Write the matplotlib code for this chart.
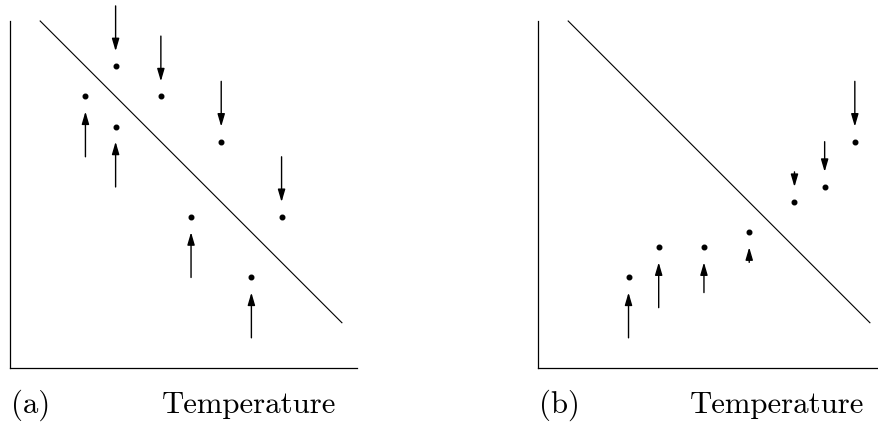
import matplotlib
matplotlib.use("Agg")
import matplotlib.pyplot as plt

plt.rcParams['font.family'] = ['cmr10', 'DejaVu Serif']
plt.rcParams['axes.formatter.use_mathtext'] = True

# panel (a): measured points, with arrows pointing towards the line
a_temp = [2.5, 3.5, 3.5, 5, 6, 7, 8, 9]
a_val = [9, 10, 8, 9, 5, 7.5, 3, 5]
a_shift = [1.5, -1.5, 1.5, -1.5, 1.5, -1.5, 1.5, -1.5]

# panel (b)
b_temp = [3, 4, 5.5, 7, 8.5, 9.5, 10.5]
b_val = [3, 4, 4, 4.5, 5.5, 6, 7.5]
b_shift = [1.5, 1.5, 1.0, 0.5, -0.5, -1.0, -1.5]

# the straight line in both panels
line_x = [1, 11]
line_y = [11.5, 1.5]

labels = ['(a)', '(b)']
xlabel = 'Temperature'

fig = plt.figure(figsize=(8.79, 4.22), dpi=100)
W, H = 879.0, 422.0
size = 347.0
lefts = [10.0, 538.0]
bottom = 422.0 - 368.0
gap = 0.5

def panel(ax, xs, ys, shifts, label):
    ax.set_xlim(0, 11.5)
    ax.set_ylim(0, 11.5)
    for s in ['top', 'right']:
        ax.spines[s].set_visible(False)
    for s in ['left', 'bottom']:
        ax.spines[s].set_linewidth(0.9)
    ax.set_xticks([])
    ax.set_yticks([])
    ax.plot(line_x, line_y, color='black', lw=0.8, clip_on=False)
    ax.plot(xs, ys, 'o', color='black', ms=3.3, clip_on=False)
    for x, y, d in zip(xs, ys, shifts):
        sign = 1 if d > 0 else -1
        tip = y - sign * gap
        tail = tip - d
        ax.annotate('', xy=(x, tip), xytext=(x, tail),
                    arrowprops=dict(arrowstyle='-|>,head_length=0.75,head_width=0.22',
                                    color='black', lw=1.0,
                                    shrinkA=0, shrinkB=0),
                    annotation_clip=False)
    ax.text(1.5 / size, -45.0 / size, label, transform=ax.transAxes,
            fontsize=22.2, ha='left', va='baseline')
    ax.text(152.0 / size, -45.0 / size, xlabel, transform=ax.transAxes,
            fontsize=22.2, ha='left', va='baseline')

ax1 = fig.add_axes([lefts[0] / W, bottom / H, size / W, size / H])
panel(ax1, a_temp, a_val, a_shift, labels[0])
ax2 = fig.add_axes([lefts[1] / W, bottom / H, size / W, size / H])
panel(ax2, b_temp, b_val, b_shift, labels[1])

fig.savefig('out.png', dpi=100)
